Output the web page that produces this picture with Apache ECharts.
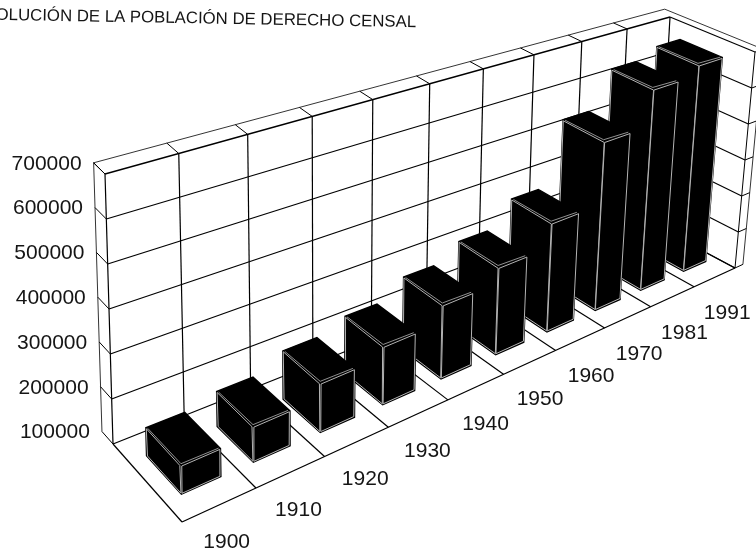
<!DOCTYPE html>
<html>
<head>
<meta charset="utf-8">
<title>Evolución de la población</title>
<style>
  html, body { margin: 0; padding: 0; background: #fff; }
  #main { width: 756px; height: 551px; }
</style>
</head>
<body>
<div id="main"></div>
<script src="https://cdn.jsdelivr.net/npm/echarts@6/dist/echarts.min.js"></script>
<script>
// datos
const anios = ['1900', '1910', '1920', '1930', '1940', '1950', '1960', '1970', '1981', '1991']
const poblacion = [162000, 180000, 214000, 239000, 281000, 319000, 380000, 545000, 642000, 668000]
const nivelesY = [100000, 200000, 300000, 400000, 500000, 600000, 700000]
const titulo = 'EVOLUCIÓN DE LA POBLACIÓN DE DERECHO CENSAL'

const fuente = '"Liberation Sans", Arial, sans-serif'
const colorTexto = '#151515'
const colorLinea = '#000'

// caja en perspectiva: esquinas en orden fondo-izq, fondo-der, frente-der, frente-izq
const esquinasSuelo = [[113, 444], [658, 227], [735, 268], [182, 522]]
const esquinasTecho = [[105, 174], [670, 17], [755, 52], [176, 244]]
// cuanto se estrechan los anios hacia la derecha, en el fondo y en el frente
const fugaFondo = 0.74
const fugaFrente = 0.72
const grosorFondo = -0.16 // grosor de la pared, en fraccion de la profundidad
const grosorDer = 1.02

function bilineal(q, e, p) {
  const ax = q[0][0] + (q[1][0] - q[0][0]) * e, ay = q[0][1] + (q[1][1] - q[0][1]) * e
  const bx = q[3][0] + (q[2][0] - q[3][0]) * e, by = q[3][1] + (q[2][1] - q[3][1]) * e
  return [ax + (bx - ax) * p, ay + (by - ay) * p]
}

// s: a lo largo de los anios, p: profundidad, h: altura (todo 0..1)
function proyectar(s, p, h) {
  const fuga = fugaFondo + (fugaFrente - fugaFondo) * p
  const e = s / (s + fuga * (1 - s))
  const a = bilineal(esquinasSuelo, e, p), b = bilineal(esquinasTecho, e, p)
  return [a[0] + (b[0] - a[0]) * h, a[1] + (b[1] - a[1]) * h]
}

function linea(a, b, ancho, color) {
  return {
    type: 'line',
    shape: { x1: a[0], y1: a[1], x2: b[0], y2: b[1] },
    style: { stroke: color || colorLinea, lineWidth: ancho || 1, fill: null }
  }
}

function texto(t, x, y, align) {
  return {
    type: 'text',
    style: { text: t, x: x, y: y, align: align, verticalAlign: 'middle', fill: colorTexto, font: '21px ' + fuente }
  }
}

// encoge un poligono hacia su centro unos px
function encoger(puntos, px) {
  const cx = puntos.reduce((m, q) => m + q[0], 0) / puntos.length
  const cy = puntos.reduce((m, q) => m + q[1], 0) / puntos.length
  return puntos.map(q => {
    const dx = cx - q[0], dy = cy - q[1]
    const n = Math.sqrt(dx * dx + dy * dy) || 1
    return [q[0] + dx / n * px, q[1] + dy / n * px]
  })
}

function alturaDe(api, params, valor) {
  const c = params.coordSys
  return (c.y + c.height - api.coord([0, valor])[1]) / c.height
}

function dibujarMarco(params, api) {
  const n = anios.length
  const hijos = []
  const alturas = nivelesY.map(v => alturaDe(api, params, v))

  // lineas horizontales: pared del fondo y pared derecha
  alturas.forEach(h => {
    hijos.push(linea(proyectar(0, 0, h), proyectar(1, 0, h), 1.3))
    hijos.push(linea(proyectar(1, 0, h), proyectar(1, 1, h), 1.2))
    hijos.push(linea(proyectar(0, grosorFondo, h), proyectar(0, 0, h), 1))
    hijos.push(linea(proyectar(1, 1, h), proyectar(grosorDer, 1, h), 1))
  })
  // verticales de la pared del fondo y suelo
  for (let i = 0; i <= n; i++) {
    const s = i / n
    hijos.push(linea(proyectar(s, 0, 0), proyectar(s, 0, 1), 1.2))
    hijos.push(linea(proyectar(s, 0, 0), proyectar(s, 1, 0), 1.2))
    if (i < n) hijos.push(linea(proyectar(s, grosorFondo, 1), proyectar(s, 0, 1), 1))
  }
  hijos.push(linea(proyectar(0, 1, 0), proyectar(1, 1, 0), 1.3))
  hijos.push(linea(proyectar(1, 1, 0), proyectar(1, 1, 1), 1))
  // grosor de las paredes
  hijos.push(linea(proyectar(0, grosorFondo, 0), proyectar(0, grosorFondo, 1), 0.8))
  hijos.push(linea(proyectar(0, grosorFondo, 1), proyectar(grosorDer, grosorFondo, 1), 0.8))
  hijos.push(linea(proyectar(grosorDer, grosorFondo, 1), proyectar(grosorDer, 1, 1), 0.8))
  hijos.push(linea(proyectar(grosorDer, 1, 0), proyectar(grosorDer, 1, 1), 0.8))

  // etiquetas
  alturas.forEach((h, k) => {
    const q = proyectar(0, grosorFondo, h)
    hijos.push(texto(String(nivelesY[k]), q[0] - 12, q[1] + 1, 'right'))
  })
  anios.forEach((a, i) => {
    const q = proyectar((i + 0.5) / n, 1, 0)
    hijos.push(texto(a, q[0] + 7 + i * 0.6, q[1] + 38 - i * 0.2, 'center'))
  })
  return { type: 'group', children: hijos }
}

function dibujarBarra(params, api) {
  const c = params.coordSys
  const i = api.value(0)
  const banda = api.size([1, 0])[0]
  const centro = api.coord([i, api.value(1)])
  const s0 = (centro[0] - banda * 0.27 - c.x) / c.width
  const s1 = (centro[0] + banda * 0.27 - c.x) / c.width
  const p0 = 0.24, p1 = 0.74
  const h = (c.y + c.height - centro[1]) / c.height

  const lado = [proyectar(s0, p0, 0), proyectar(s0, p1, 0), proyectar(s0, p1, h), proyectar(s0, p0, h)]
  const frente = [proyectar(s0, p1, 0), proyectar(s1, p1, 0), proyectar(s1, p1, h), proyectar(s0, p1, h)]
  const tapa = [proyectar(s0, p0, h), proyectar(s0, p1, h), proyectar(s1, p1, h), proyectar(s1, p0, h)]
  const silueta = [lado[0], lado[1], frente[1], frente[2], tapa[3], lado[3]]
  const borde = '#b4b4b4'

  const tapaIn = encoger(tapa, 2)
  return {
    type: 'group',
    children: [
      { type: 'polygon', shape: { points: silueta }, style: { fill: '#000', stroke: '#000', lineWidth: 1.4 } },
      { type: 'polygon', shape: { points: encoger(lado, 1) }, style: { fill: '#000', stroke: borde, lineWidth: 1 } },
      { type: 'polygon', shape: { points: encoger(frente, 1) }, style: { fill: '#000', stroke: borde, lineWidth: 1 } },
      { type: 'polyline', shape: { points: [tapaIn[0], tapaIn[1], tapaIn[2]] }, style: { fill: null, stroke: borde, lineWidth: 0.8 } }
    ]
  }
}

const chart = echarts.init(document.getElementById('main'))
chart.setOption({
  animation: false,
  backgroundColor: '#fff',
  grid: { left: 100, right: 100, top: 60, bottom: 60 },
  xAxis: { type: 'category', data: anios, show: false },
  yAxis: { type: 'value', min: 100000, max: 700000, interval: 100000, show: false },
  graphic: [{
    type: 'text',
    x: 416,
    y: 31,
    rotation: -Math.PI / 180,
    style: { text: titulo, align: 'right', verticalAlign: 'bottom', fill: colorTexto, font: '16.8px ' + fuente }
  }],
  series: [
    {
      type: 'custom',
      name: 'marco',
      silent: true,
      z: 1,
      data: [[0, 100000]],
      renderItem: dibujarMarco
    },
    {
      type: 'custom',
      name: 'Población',
      silent: true,
      z: 2,
      // de derecha a izquierda: las barras de la izquierda tapan a las siguientes
      data: poblacion.map((v, i) => [i, v]).reverse(),
      renderItem: dibujarBarra
    }
  ]
})
</script>
</body>
</html>
